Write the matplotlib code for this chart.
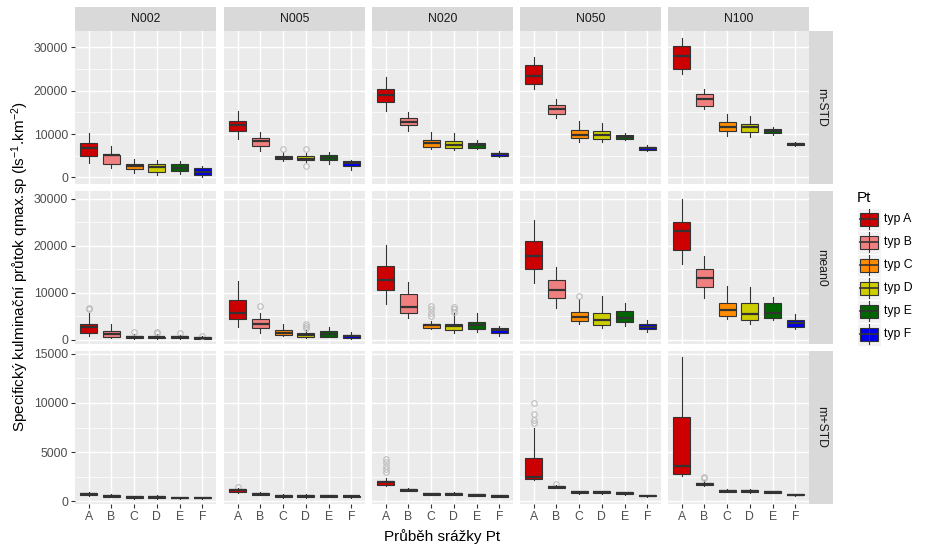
import matplotlib.pyplot as plt
from matplotlib.patches import Rectangle

plt.rcParams['font.family'] = ['Liberation Sans', 'DejaVu Sans']
plt.rcParams['mathtext.default'] = 'regular'

rows = ["m-STD", "mean0", "m+STD"]
cols = ["N002", "N005", "N020", "N050", "N100"]
cats = ["A", "B", "C", "D", "E", "F"]
legend_labels = ["typ A", "typ B", "typ C", "typ D", "typ E", "typ F"]
fills = ["#CC0000", "#F08080", "#FF8C00", "#CDCD00", "#006400", "#0000EE"]

# box statistics, [row][column][category]
whi = [
    [[10300, 7200, 4300, 4100, 3800, 2700],
     [15300, 10600, 5900, 5700, 5900, 4000],
     [23300, 15000, 10500, 10200, 8600, 6000],
     [27800, 18100, 13000, 12500, 10200, 7600],
     [32200, 20400, 14600, 14100, 11600, 8300]],
    [[5600, 3300, 1300, 1150, 930, 700],
     [12600, 5800, 3300, 2100, 2800, 1700],
     [20100, 12400, 4000, 5600, 5700, 2900],
     [25500, 15600, 8700, 9400, 7800, 4200],
     [30100, 17900, 11500, 11300, 9200, 5400]],
    [[970, 690, 550, 590, 450, 450],
     [1350, 900, 720, 690, 660, 590],
     [2310, 1350, 860, 900, 720, 620],
     [7400, 1660, 1070, 1040, 930, 590],
     [14660, 2140, 1210, 1210, 1070, 760]],
]
q3 = [
    [[8000, 5300, 3200, 3200, 3000, 2100],
     [13000, 9100, 5000, 5000, 5300, 3800],
     [20500, 13700, 8700, 8400, 8000, 5700],
     [25900, 16800, 10900, 10700, 9800, 7100],
     [30400, 19200, 12700, 12300, 11100, 8000]],
    [[3300, 1800, 800, 640, 800, 570],
     [8500, 4400, 2100, 1400, 1900, 1070],
     [15700, 9700, 3400, 3400, 3700, 2500],
     [21000, 12700, 5900, 5700, 6100, 3300],
     [25000, 15100, 7800, 7800, 7800, 4200]],
    [[860, 620, 520, 520, 410, 410],
     [1240, 830, 660, 660, 620, 520],
     [2070, 1240, 790, 790, 690, 590],
     [4420, 1550, 1000, 1000, 900, 590],
     [8550, 1860, 1140, 1140, 1040, 720]],
]
med = [
    [[6900, 5100, 2600, 2400, 2300, 1300],
     [12100, 8400, 4600, 4300, 4600, 3400],
     [19100, 12900, 8000, 7600, 7600, 5400],
     [23400, 15900, 9900, 9900, 9300, 6700],
     [28100, 18100, 11700, 11600, 10700, 7700]],
    [[2700, 1300, 500, 500, 640, 430],
     [5700, 3300, 1500, 930, 1200, 800],
     [12700, 6900, 3100, 2900, 3100, 2000],
     [17800, 10600, 4900, 4200, 4700, 2800],
     [23200, 13200, 6300, 5400, 5800, 3500]],
    [[760, 550, 410, 410, 340, 340],
     [1140, 760, 550, 550, 550, 480],
     [1900, 1170, 720, 720, 620, 550],
     [2450, 1480, 930, 930, 830, 550],
     [3590, 1760, 1070, 1070, 970, 660]],
]
q1 = [
    [[5000, 3200, 1900, 1300, 1400, 500],
     [10800, 7200, 4200, 4000, 4000, 2600],
     [17500, 12000, 7000, 6700, 6900, 5000],
     [21600, 14600, 9100, 8900, 8800, 6300],
     [25100, 16600, 10700, 10500, 10200, 7400]],
    [[1400, 570, 290, 290, 290, 140],
     [4400, 2500, 930, 500, 640, 290],
     [10500, 5700, 2600, 2000, 2400, 1400],
     [15000, 8800, 3900, 3100, 3700, 2200],
     [19200, 11200, 5000, 4200, 4700, 2800]],
    [[620, 450, 280, 280, 280, 280],
     [970, 660, 380, 380, 450, 380],
     [1660, 1070, 660, 660, 550, 450],
     [2240, 1380, 790, 790, 690, 480],
     [2760, 1590, 970, 970, 830, 590]],
]
wlo = [
    [[3400, 2200, 1100, 500, 800, 200],
     [8800, 6000, 3800, 3600, 3000, 1700],
     [15400, 10800, 6500, 6300, 6600, 4700],
     [20500, 13800, 8200, 8200, 8600, 6000],
     [23900, 15900, 9600, 9300, 9700, 7200]],
    [[900, 290, 140, 200, 200, 140],
     [2800, 1500, 700, 360, 500, 200],
     [7600, 4600, 2200, 1400, 1700, 900],
     [12000, 6700, 3400, 2600, 3000, 1700],
     [16200, 8800, 4500, 3300, 4200, 2400]],
    [[550, 410, 240, 240, 240, 240],
     [860, 620, 340, 340, 410, 340],
     [1550, 1040, 620, 620, 520, 410],
     [2140, 1350, 720, 760, 660, 450],
     [2590, 1520, 930, 860, 790, 550]],
]
# outliers: (row, column, category) -> values
outliers = {
    (0, 1, 2): [6600],
    (0, 1, 3): [6600, 2600],
    (1, 0, 0): [6800, 6500],
    (1, 0, 2): [1650],
    (1, 0, 3): [1700, 1360],
    (1, 0, 4): [1360],
    (1, 0, 5): [800],
    (1, 1, 1): [7100],
    (1, 1, 3): [3300, 3000, 2600],
    (1, 2, 2): [7200, 6500, 5800, 5100],
    (1, 2, 3): [7000, 6500, 5900],
    (1, 3, 2): [9400],
    (2, 1, 0): [1480],
    (2, 2, 0): [4300, 3970, 3620, 3280, 2930],
    (2, 3, 0): [10000, 8830, 8240, 8000],
    (2, 3, 1): [1790],
    (2, 4, 1): [2480, 2310],
}

row_ylim = [(-1500, 33800), (-900, 31700), (-300, 15300)]
row_major = [[0, 10000, 20000, 30000], [0, 10000, 20000, 30000], [0, 5000, 10000, 15000]]
row_minor = [[5000, 15000, 25000], [5000, 15000, 25000], [2500, 7500, 12500]]

W, H = 925, 551
fig = plt.figure(figsize=(W / 100, H / 100), dpi=100)


def px_axes(x0, y0, w, h):
    return fig.add_axes([x0 / W, 1 - (y0 + h) / H, w / W, h / H])


col_x = [75, 224, 372, 520, 668]
row_y = [31, 191, 351]
pw, ph = 141, 153
line_col = "#333333"

for r in range(3):
    for c in range(5):
        ax = px_axes(col_x[c], row_y[r], pw, ph)
        ax.set_facecolor("#EBEBEB")
        for s in ax.spines.values():
            s.set_visible(False)
        stats = []
        for k in range(6):
            stats.append({"med": med[r][c][k], "q1": q1[r][c][k], "q3": q3[r][c][k],
                          "whislo": wlo[r][c][k], "whishi": whi[r][c][k],
                          "fliers": outliers.get((r, c, k), [])})
        bp = ax.bxp(stats, positions=range(1, 7), widths=0.75, patch_artist=True,
                    showcaps=False,
                    boxprops=dict(edgecolor=line_col, linewidth=0.8),
                    medianprops=dict(color=line_col, linewidth=1.6),
                    whiskerprops=dict(color=line_col, linewidth=0.8),
                    flierprops=dict(marker="o", markerfacecolor="none",
                                    markeredgecolor="#BDBDBD", markersize=4,
                                    markeredgewidth=0.8))
        for patch, fc in zip(bp["boxes"], fills):
            patch.set_facecolor(fc)
        ax.set_xlim(0.4, 6.6)
        ax.set_ylim(*row_ylim[r])
        ax.set_yticks(row_major[r])
        ax.set_yticks(row_minor[r], minor=True)
        ax.set_xticks(range(1, 7))
        ax.grid(which="major", color="white", linewidth=1.07)
        ax.grid(which="minor", axis="y", color="white", linewidth=0.53)
        ax.set_axisbelow(True)
        ax.tick_params(which="minor", length=0)
        ax.tick_params(which="major", length=2.75, width=0.8, color=line_col,
                       labelsize=8.8, labelcolor="#4D4D4D", pad=2.2)
        if c == 0:
            ax.set_yticklabels([str(v) for v in row_major[r]])
        else:
            ax.tick_params(axis="y", length=0, labelleft=False)
        if r == 2:
            ax.set_xticklabels(cats)
        else:
            ax.tick_params(axis="x", length=0, labelbottom=False)

# strips
for c in range(5):
    sa = px_axes(col_x[c], 7, pw, 24)
    sa.set_facecolor("#D9D9D9")
    sa.set_xticks([])
    sa.set_yticks([])
    for s in sa.spines.values():
        s.set_visible(False)
    sa.text(0.5, 0.5, cols[c], ha="center", va="center", fontsize=8.8,
            color="#1A1A1A", transform=sa.transAxes)
for r in range(3):
    sa = px_axes(809, row_y[r], 24, ph)
    sa.set_facecolor("#D9D9D9")
    sa.set_xticks([])
    sa.set_yticks([])
    for s in sa.spines.values():
        s.set_visible(False)
    sa.text(0.5, 0.5, rows[r], ha="center", va="center", fontsize=8.8,
            color="#1A1A1A", rotation=-90, transform=sa.transAxes)

fig.text(20 / W, 1 - 267 / H, "Specifický kulminační průtok qmax.sp (ls$^{-1}$.km$^{-2}$)",
         rotation=90, ha="center", va="center", fontsize=11, color="black")
fig.text(442 / W, 1 - 537 / H, "Průběh srážky Pt", ha="center", va="center",
         fontsize=11, color="black")

# legend
la = px_axes(850, 185, 75, 165)
la.set_xlim(850, 925)
la.set_ylim(350, 185)
la.axis("off")
la.text(857, 198, "Pt", ha="left", va="center", fontsize=11)
for i, (lab, fc) in enumerate(zip(legend_labels, fills)):
    yc = 219 + i * 23
    la.add_patch(Rectangle((857, yc - 11.5), 24, 23, facecolor="#F2F2F2",
                           edgecolor="white", linewidth=0.8))
    la.plot([869, 869], [yc - 10, yc + 10], color=line_col, linewidth=0.8)
    la.add_patch(Rectangle((860, yc - 6.5), 18, 13, facecolor=fc,
                           edgecolor=line_col, linewidth=0.8))
    la.plot([860, 878], [yc, yc], color=line_col, linewidth=1.2)
    la.text(884, yc, lab, ha="left", va="center", fontsize=8.8)

fig.savefig("out.png", dpi=100)
